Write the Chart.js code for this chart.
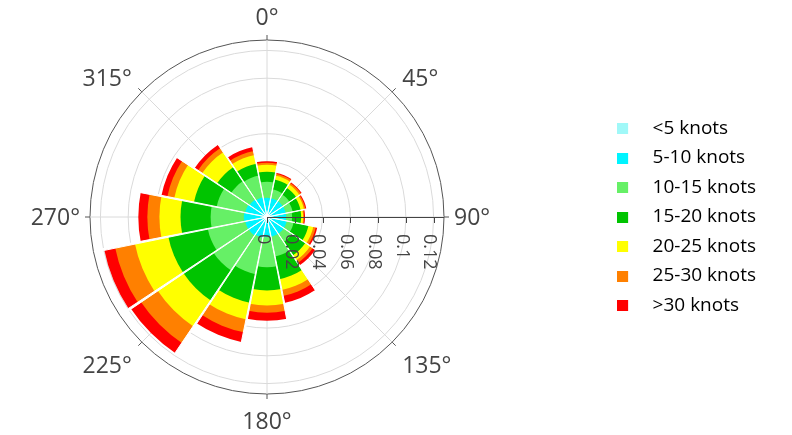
<!DOCTYPE html>
<html>
<head>
<meta charset="utf-8">
<title>Wind rose</title>
<script src="https://cdn.jsdelivr.net/npm/chart.js@4.4.1/dist/chart.umd.min.js"></script>
<style>
  html, body { margin: 0; padding: 0; background: #fff; }
  canvas { display: block; }
</style>
</head>
<body>
<canvas id="windRose" width="792" height="435"></canvas>
<script>
// 16 compass sectors, clockwise from north
const directions = ['N', 'NNE', 'NE', 'ENE', 'E', 'ESE', 'SE', 'SSE', 'S', 'SSW', 'SW', 'WSW', 'W', 'WNW', 'NW', 'NNW'];
const speedBands = ['<5 knots', '5-10 knots', '10-15 knots', '15-20 knots', '20-25 knots', '25-30 knots', '>30 knots'];
const bandColors = ['#a0f8f8', '#00f4ff', '#66f066', '#00c400', '#ffff00', '#ff8000', '#ff0000'];

// relative frequency of each speed band per direction
const freqBelow5 = [0.0022, 0.0022, 0.0022, 0.0022, 0.0022, 0.0022, 0.0022, 0.0022, 0.0022, 0.0022, 0.0022, 0.0022, 0.0022, 0.0022, 0.0022, 0.0022];
const freq5to10 = [0.0116, 0.0116, 0.0116, 0.0116, 0.0116, 0.0123, 0.0123, 0.0123, 0.0123, 0.0130, 0.0138, 0.0138, 0.0145, 0.0138, 0.0130, 0.0123];
const freq10to15 = [0.0116, 0.0065, 0.0058, 0.0051, 0.0043, 0.0051, 0.0072, 0.0145, 0.0217, 0.0268, 0.0304, 0.0275, 0.0239, 0.0210, 0.0159, 0.0159];
const freq15to20 = [0.0072, 0.0072, 0.0058, 0.0058, 0.0065, 0.0109, 0.0116, 0.0167, 0.0167, 0.0210, 0.0261, 0.0290, 0.0217, 0.0167, 0.0123, 0.0087];
const freq20to25 = [0.0051, 0.0029, 0.0029, 0.0025, 0.0014, 0.0036, 0.0043, 0.0080, 0.0109, 0.0123, 0.0225, 0.0246, 0.0152, 0.0145, 0.0130, 0.0065];
const freq25to30 = [0.0014, 0.0014, 0.0014, 0.0011, 0.0007, 0.0018, 0.0022, 0.0043, 0.0051, 0.0094, 0.0145, 0.0145, 0.0087, 0.0051, 0.0036, 0.0029];
const freqAbove30 = [0.0011, 0.0007, 0.0007, 0.0007, 0.0007, 0.0011, 0.0022, 0.0051, 0.0058, 0.0072, 0.0087, 0.0080, 0.0065, 0.0043, 0.0029, 0.0029];

// radial axis
const radialMax = 0.1275;
const radialTicks = [0, 0.02, 0.04, 0.06, 0.08, 0.1, 0.12];
const radialTickLabels = ['0', '0.02', '0.04', '0.06', '0.08', '0.1', '0.12'];

// angular axis
const angleTicks = [0, 45, 90, 135, 180, 225, 270, 315];
const angleTickLabels = ['0°', '45°', '90°', '135°', '180°', '225°', '270°', '315°'];

const textColor = '#444';
const gridColor = '#dadada';
const fontFamily = "'Open Sans', sans-serif";

Chart.defaults.font.family = fontFamily;
Chart.defaults.color = textColor;

// polar area arcs all start at the centre, so stack the bands by
// drawing running totals: the smallest total ends up on top
const bandSeries = [freqBelow5, freq5to10, freq10to15, freq15to20, freq20to25, freq25to30, freqAbove30];
const runningTotals = [];
bandSeries.forEach((series, b) => {
  runningTotals.push(series.map((v, i) => (b === 0 ? 0 : runningTotals[b - 1][i]) + v));
});

// legend swatch: a square on the left of a wider transparent strip
function makeSwatch(color) {
  const c = document.createElement('canvas');
  c.width = 26;
  c.height = 11;
  const g = c.getContext('2d');
  g.fillStyle = color;
  g.fillRect(0, 0, 11, 11);
  return c;
}
const swatches = bandColors.map(makeSwatch);

// compass degrees -> canvas radians
const toCanvasAngle = deg => (deg - 90) * Math.PI / 180;

const roseAxes = {
  id: 'roseAxes',
  beforeDatasetsDraw(chart) {
    const r = chart.scales.r;
    const ctx = chart.ctx;
    ctx.save();
    ctx.strokeStyle = gridColor;
    ctx.lineWidth = 1;
    angleTicks.forEach(deg => {
      const a = toCanvasAngle(deg);
      ctx.beginPath();
      ctx.moveTo(r.xCenter, r.yCenter);
      ctx.lineTo(r.xCenter + r.drawingArea * Math.cos(a), r.yCenter + r.drawingArea * Math.sin(a));
      ctx.stroke();
    });
    ctx.restore();
  },
  afterDatasetsDraw(chart) {
    const r = chart.scales.r;
    const ctx = chart.ctx;
    const xc = r.xCenter;
    const yc = r.yCenter;
    const R = r.drawingArea;
    ctx.save();

    // white gaps between neighbouring sectors
    const arcs = chart.getDatasetMeta(chart.data.datasets.length - 1).data;
    const halfGap = 0.006;
    ctx.fillStyle = '#fff';
    ctx.strokeStyle = '#fff';
    ctx.lineWidth = 1;
    arcs.forEach((arc, i) => {
      const prev = arcs[(i + arcs.length - 1) % arcs.length];
      const len = Math.max(arc.outerRadius, prev.outerRadius) + 1;
      const a = arc.startAngle;
      ctx.beginPath();
      ctx.moveTo(arc.x, arc.y);
      ctx.lineTo(arc.x + len * Math.cos(a - halfGap), arc.y + len * Math.sin(a - halfGap));
      ctx.lineTo(arc.x + len * Math.cos(a + halfGap), arc.y + len * Math.sin(a + halfGap));
      ctx.closePath();
      ctx.fill();
      ctx.stroke();
    });

    // radial axis along 90°
    ctx.strokeStyle = textColor;
    ctx.lineWidth = 1;
    ctx.beginPath();
    ctx.moveTo(xc, yc + 0.5);
    ctx.lineTo(xc + R, yc + 0.5);
    radialTicks.forEach(v => {
      const x = Math.round(xc + r.getDistanceFromCenterForValue(v)) + 0.5;
      ctx.moveTo(x, yc);
      ctx.lineTo(x, yc + 6);
    });
    ctx.stroke();

    ctx.fillStyle = textColor;
    ctx.font = '18px ' + fontFamily;
    ctx.textAlign = 'left';
    ctx.textBaseline = 'middle';
    radialTicks.forEach((v, i) => {
      const x = xc + r.getDistanceFromCenterForValue(v);
      ctx.save();
      ctx.translate(x - 4, yc + 17);
      ctx.rotate(Math.PI / 2);
      ctx.fillText(radialTickLabels[i], 0, 0);
      ctx.restore();
    });

    // outer ticks and angle labels
    ctx.strokeStyle = '#555';
    ctx.beginPath();
    angleTicks.forEach(deg => {
      const a = toCanvasAngle(deg);
      ctx.moveTo(xc + R * Math.cos(a), yc + R * Math.sin(a));
      ctx.lineTo(xc + (R + 5) * Math.cos(a), yc + (R + 5) * Math.sin(a));
    });
    ctx.stroke();

    const fs = 23;
    const capH = 0.72 * fs;
    ctx.font = fs + 'px ' + fontFamily;
    ctx.textAlign = 'center';
    ctx.textBaseline = 'alphabetic';
    angleTicks.forEach((deg, i) => {
      const a = toCanvasAngle(deg);
      const s = Math.sin(deg * Math.PI / 180);
      const c = Math.cos(deg * Math.PI / 180);
      const w = ctx.measureText(angleTickLabels[i]).width;
      const side = Math.abs(s) > 0.3;
      // label box sits outside the rim point, pushed sideways and up/down
      let ox = 0;
      let oy = 0;
      if (side) ox = Math.sign(s) * (10 + w / 2);
      if (c > 0.3) oy = -((side ? 5.5 : 15.5) + capH / 2);
      if (c < -0.3) oy = (side ? 14 : 18.5) + capH / 2;
      const x = xc + R * Math.cos(a) + ox;
      const y = yc + R * Math.sin(a) + oy;
      ctx.fillText(angleTickLabels[i], x, y + capH / 2);
    });
    ctx.restore();
  }
};

new Chart(document.getElementById('windRose'), {
  type: 'polarArea',
  data: {
    labels: directions,
    datasets: speedBands.map((band, b) => ({
      label: band,
      data: runningTotals[b],
      backgroundColor: bandColors[b],
      borderWidth: 0
    }))
  },
  options: {
    responsive: false,
    animation: false,
    layout: { padding: { top: 40, bottom: 41, left: 90, right: 26 } },
    scales: {
      r: {
        min: 0,
        max: radialMax,
        startAngle: -11.25,
        ticks: { display: false },
        afterBuildTicks: scale => {
          scale.ticks = radialTicks.concat(radialMax).map(v => ({ value: v }));
        },
        // keep the polar domain flush with the left of the chart area
        afterFit: scale => {
          scale.xCenter = scale.left + scale.drawingArea;
        },
        grid: {
          circular: true,
          lineWidth: 1,
          color: ctx => (ctx.tick && ctx.tick.value >= radialMax ? '#555' : gridColor)
        },
        angleLines: { display: false },
        pointLabels: { display: false }
      }
    },
    plugins: {
      tooltip: { enabled: false },
      legend: {
        position: 'right',
        onClick: () => {},
        labels: {
          usePointStyle: true,
          pointStyleWidth: 26,
          boxHeight: 11,
          padding: 10.5,
          color: textColor,
          font: { size: 19 },
          generateLabels: chart => chart.data.datasets.map((ds, i) => ({
            text: ds.label,
            fillStyle: ds.backgroundColor,
            strokeStyle: ds.backgroundColor,
            lineWidth: 0,
            pointStyle: swatches[i],
            hidden: false,
            datasetIndex: i
          }))
        }
      }
    }
  },
  plugins: [roseAxes]
});
</script>
</body>
</html>
